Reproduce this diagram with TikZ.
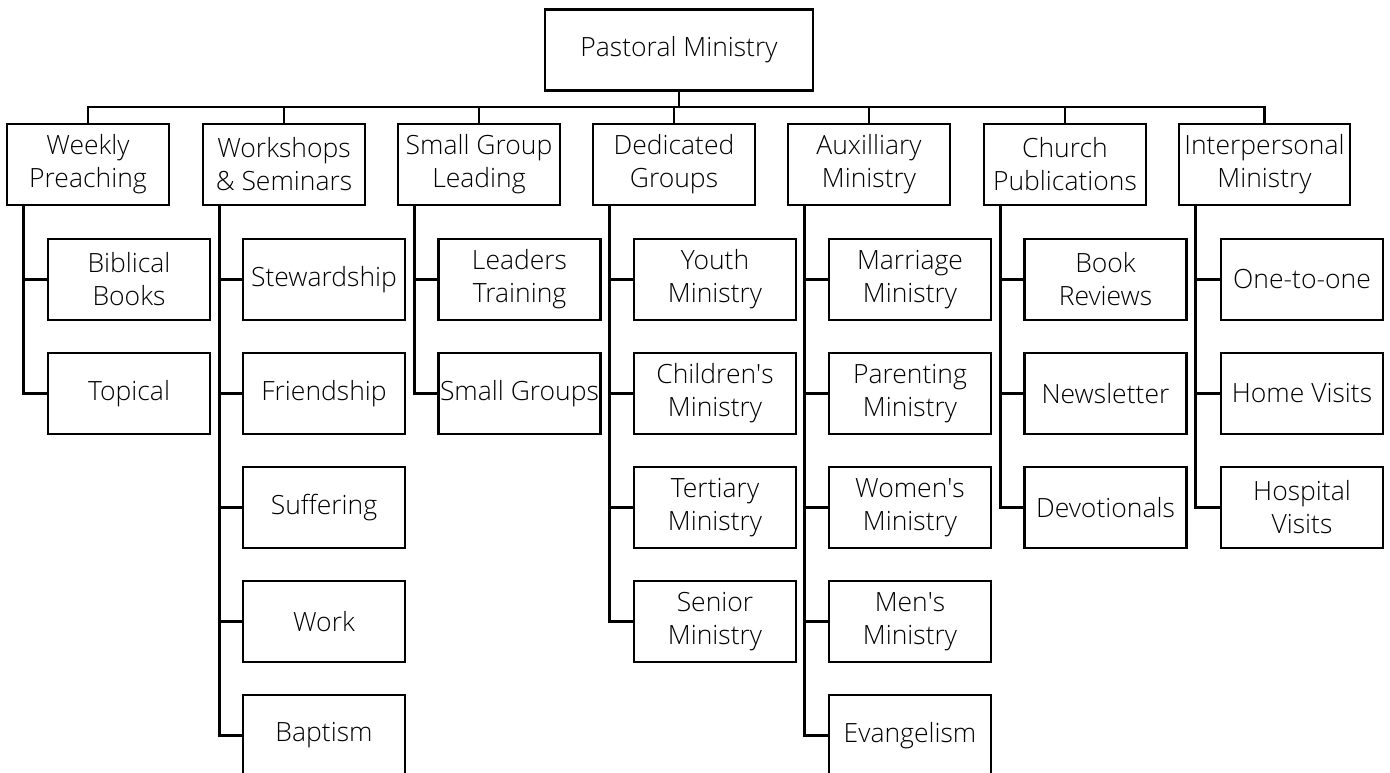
\documentclass[tikz,border=0pt]{standalone}
\usepackage{fontspec}
\setmainfont{Open Sans}[UprightFont={* Light}]
\begin{document}
\begin{tikzpicture}[x=1pt,y=-1pt,
  box/.style={draw=black,line width=2.4pt,minimum width=162pt,minimum height=81pt,
    inner sep=0pt,outer sep=0pt,align=center,text=black,
    font=\fontsize{26.5}{33}\selectfont},
  link/.style={draw=black,line width=2.4pt}]
\useasboundingbox (0,0) rectangle (1390,773);
\fill[white] (0,0) rectangle (1390,773);
% root
\node[box,minimum width=268pt] (root) at (679,50) {Pastoral Ministry};
% parents
\node[box] (wp) at (88,164.5) {Weekly\\Preaching};
\node[box] (ws) at (284,164.5) {Workshops\\\& Seminars};
\node[box] (sg) at (479,164.5) {Small Group\\Leading};
\node[box] (dg) at (674,164.5) {Dedicated\\Groups};
\node[box] (am) at (869,164.5) {Auxilliary\\Ministry};
\node[box] (cp) at (1065,164.5) {Church\\Publications};
\node[box,minimum width=171pt] (ip) at (1264.5,164.5) {Interpersonal\\Ministry};
% children
\node[box] (wp1) at (129,279.5) {Biblical\\Books};
\node[box] (wp2) at (129,393.5) {Topical};
\node[box] (ws1) at (324,279.5) {Stewardship};
\node[box] (ws2) at (324,393.5) {Friendship};
\node[box] (ws3) at (324,507.5) {Suffering};
\node[box] (ws4) at (324,621.5) {Work};
\node[box] (ws5) at (324,735.5) {Baptism};
\node[box] (sg1) at (519.5,279.5) {Leaders\\Training};
\node[box] (sg2) at (519.5,393.5) {Small Groups};
\node[box] (dg1) at (715,279.5) {Youth\\Ministry};
\node[box] (dg2) at (715,393.5) {Children\textquotesingle s\\Ministry};
\node[box] (dg3) at (715,507.5) {Tertiary\\Ministry};
\node[box] (dg4) at (715,621.5) {Senior\\Ministry};
\node[box] (am1) at (910,279.5) {Marriage\\Ministry};
\node[box] (am2) at (910,393.5) {Parenting\\Ministry};
\node[box] (am3) at (910,507.5) {Women\textquotesingle s\\Ministry};
\node[box] (am4) at (910,621.5) {Men\textquotesingle s\\Ministry};
\node[box] (am5) at (910,735.5) {Evangelism};
\node[box] (cp1) at (1105.5,279.5) {Book\\Reviews};
\node[box] (cp2) at (1105.5,393.5) {Newsletter};
\node[box] (cp3) at (1105.5,507.5) {Devotionals};
\node[box] (ip1) at (1302,279.5) {One-to-one};
\node[box] (ip2) at (1302,393.5) {Home Visits};
\node[box] (ip3) at (1302,507.5) {Hospital\\Visits};
% top bar
\coordinate (bar) at (679,107);
\draw[link] (root.south) -- (bar);
\draw[link] (wp.north) |- (bar) -| (ip.north);
\foreach \p in {ws,sg,dg,am,cp} \draw[link] (\p.north) -- (\p.north |- bar);
% branch lines
\foreach \p/\list in {wp/{wp1,wp2},ws/{ws1,ws2,ws3,ws4,ws5},sg/{sg1,sg2},
    dg/{dg1,dg2,dg3,dg4},am/{am1,am2,am3,am4,am5},cp/{cp1,cp2,cp3},ip/{ip1,ip2,ip3}}{
  \coordinate (\p v) at ([xshift=16.5pt]\p.south west);
  \foreach \c in \list \draw[link] (\p v) |- (\c.west);
}
\end{tikzpicture}
\end{document}
